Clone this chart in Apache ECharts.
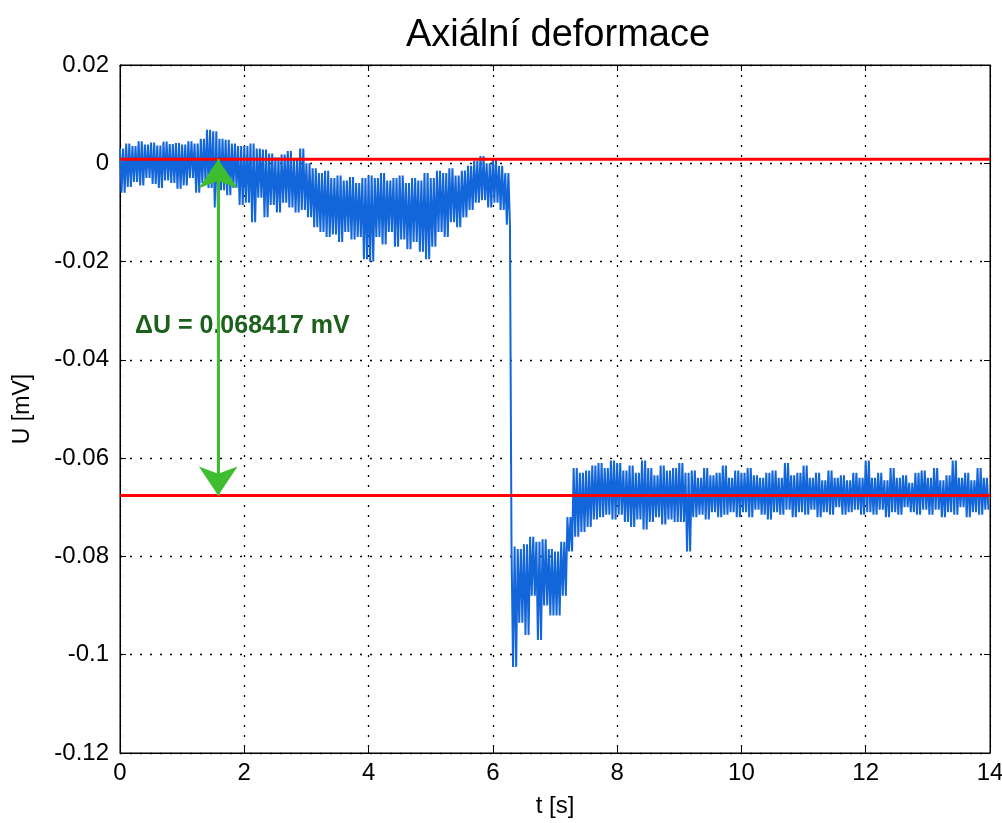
<!DOCTYPE html>
<html lang="cs">
<head>
    <meta charset="UTF-8">
    <title>Axiální deformace</title>
    <style>
        html, body { margin: 0; padding: 0; background: #fff; }
    </style>
</head>
<body>
<div id="main" style="width: 1002px;height: 823px;"></div>
<script src="https://cdn.jsdelivr.net/npm/echarts@6/dist/echarts.min.js"></script>
<script type="text/javascript">

    // start time of each 0.1 s window is index * step
    var step = 0.1;

    // upper edge of the noisy trace in each window [mV]
    var upperEdge = [
        0.0030, 0.0040, 0.0035, 0.0045, 0.0038, 0.0042, 0.0036, 0.0044, 0.0039, 0.0041,
        0.0038, 0.0045, 0.0040, 0.0050, 0.0068, 0.0065, 0.0050, 0.0048, 0.0040, 0.0035,
        0.0035, 0.0040, 0.0030, 0.0028, 0.0020, 0.0012, 0.0018, 0.0025, 0.0010, 0.0030,
        0.0000, -0.0010, -0.0020, -0.0015, -0.0030, -0.0025, -0.0035, -0.0028, -0.0040, -0.0030,
        -0.0025, -0.0030, -0.0020, -0.0035, -0.0030, -0.0025, -0.0040, -0.0030, -0.0035, -0.0020,
        -0.0030, -0.0015, -0.0020, -0.0010, -0.0025, -0.0015, -0.0005, 0.0005, 0.0015, 0.0000,
        0.0010, -0.0005, -0.0020, -0.0780, -0.0785, -0.0775, -0.0760, -0.0770, -0.0765, -0.0785,
        -0.0790, -0.0770, -0.0720, -0.0620, -0.0630, -0.0625, -0.0615, -0.0610, -0.0620, -0.0605,
        -0.0610, -0.0625, -0.0615, -0.0630, -0.0605, -0.0620, -0.0635, -0.0615, -0.0625, -0.0620,
        -0.0610, -0.0630, -0.0625, -0.0640, -0.0620, -0.0635, -0.0630, -0.0615, -0.0640, -0.0625,
        -0.0630, -0.0620, -0.0635, -0.0640, -0.0630, -0.0625, -0.0640, -0.0610, -0.0635, -0.0630,
        -0.0615, -0.0640, -0.0630, -0.0645, -0.0625, -0.0640, -0.0635, -0.0645, -0.0630, -0.0640,
        -0.0605, -0.0640, -0.0630, -0.0645, -0.0620, -0.0640, -0.0635, -0.0650, -0.0630, -0.0625,
        -0.0640, -0.0620, -0.0645, -0.0635, -0.0605, -0.0640, -0.0630, -0.0645, -0.0620, -0.0640
    ];

    // lower edge of the noisy trace in each window [mV]
    var lowerEdge = [
        -0.0060, -0.0048, -0.0038, -0.0045, -0.0030, -0.0042, -0.0050, -0.0035, -0.0040, -0.0052,
        -0.0045, -0.0030, -0.0060, -0.0040, -0.0050, -0.0090, -0.0055, -0.0065, -0.0050, -0.0085,
        -0.0080, -0.0120, -0.0070, -0.0110, -0.0085, -0.0100, -0.0080, -0.0090, -0.0100, -0.0095,
        -0.0110, -0.0130, -0.0140, -0.0150, -0.0145, -0.0160, -0.0140, -0.0155, -0.0150, -0.0195,
        -0.0200, -0.0150, -0.0165, -0.0140, -0.0170, -0.0155, -0.0175, -0.0160, -0.0180, -0.0195,
        -0.0170, -0.0140, -0.0150, -0.0120, -0.0130, -0.0110, -0.0095, -0.0080, -0.0075, -0.0090,
        -0.0080, -0.0095, -0.0125, -0.1025, -0.0935, -0.0960, -0.0880, -0.0970, -0.0900, -0.0920,
        -0.0920, -0.0880, -0.0790, -0.0760, -0.0750, -0.0740, -0.0725, -0.0720, -0.0715, -0.0725,
        -0.0715, -0.0730, -0.0740, -0.0725, -0.0745, -0.0730, -0.0720, -0.0735, -0.0725, -0.0730,
        -0.0730, -0.0790, -0.0720, -0.0715, -0.0725, -0.0710, -0.0720, -0.0715, -0.0710, -0.0720,
        -0.0710, -0.0720, -0.0705, -0.0715, -0.0725, -0.0710, -0.0715, -0.0705, -0.0720, -0.0710,
        -0.0715, -0.0705, -0.0720, -0.0710, -0.0715, -0.0700, -0.0715, -0.0710, -0.0705, -0.0715,
        -0.0710, -0.0715, -0.0705, -0.0720, -0.0710, -0.0715, -0.0700, -0.0710, -0.0715, -0.0705,
        -0.0715, -0.0705, -0.0720, -0.0710, -0.0715, -0.0700, -0.0720, -0.0710, -0.0715, -0.0705
    ];

    // red reference levels and the measured difference
    var levelBefore = 0.0008;
    var levelAfter = -0.0676;
    var arrowTime = 1.58;
    var deltaText = '\u0394U = 0.068417 mV';

    var xTicks = { min: 0, max: 14, interval: 2 };
    var yTicks = { min: -0.12, max: 0.02, interval: 0.02 };

    // trace: zig-zag between the edges inside every window
    var trace = [];
    for (var i = 0; i < upperEdge.length; i++) {
        var t = i * step;
        trace.push([t, upperEdge[i]]);
        trace.push([t + step / 4, lowerEdge[i]]);
        trace.push([t + step / 2, upperEdge[i]]);
        trace.push([t + 3 * step / 4, lowerEdge[i]]);
    }

    var font = 'Liberation Sans';
    var gridDots = { color: '#000', type: [2, 8], width: 1.3 };

    var option = {
        animation: false,
        backgroundColor: '#fff',
        title: {
            text: 'Axiální deformace',
            left: 553,
            textAlign: 'center',
            top: 12,
            textStyle: { fontFamily: font, fontSize: 38, fontWeight: 'normal', color: '#000' }
        },
        grid: {
            left: 120, right: 12, top: 65, bottom: 70,
            outerBoundsMode: 'none',
            containLabel: false,
            show: true, borderColor: '#000', borderWidth: 1
        },
        xAxis: [{
            type: 'value',
            min: xTicks.min, max: xTicks.max, interval: xTicks.interval,
            name: 't [s]', nameLocation: 'middle', nameGap: 41,
            nameTextStyle: { fontFamily: font, fontSize: 24, color: '#000' },
            axisLine: { show: true, onZero: false, lineStyle: { color: '#000', width: 1 } },
            axisTick: { inside: true, length: 6, lineStyle: { color: '#000' } },
            axisLabel: { fontFamily: font, fontSize: 24, color: '#000', margin: 8 },
            splitLine: { show: true, lineStyle: gridDots }
        }, {
            type: 'value', position: 'top',
            min: xTicks.min, max: xTicks.max, interval: xTicks.interval,
            axisLine: { show: true, onZero: false, lineStyle: { color: '#000' } },
            axisTick: { inside: true, length: 6, lineStyle: { color: '#000' } },
            axisLabel: { show: false },
            splitLine: { show: false }
        }],
        yAxis: [{
            type: 'value',
            min: yTicks.min, max: yTicks.max, interval: yTicks.interval,
            name: 'U [mV]', nameLocation: 'middle', nameGap: 86,
            nameTextStyle: { fontFamily: font, fontSize: 23, color: '#000' },
            axisLine: { show: true, onZero: false, lineStyle: { color: '#000', width: 1 } },
            axisTick: { inside: true, length: 6, lineStyle: { color: '#000' } },
            axisLabel: { fontFamily: font, fontSize: 24, color: '#000', margin: 11 },
            splitLine: { show: true, lineStyle: gridDots }
        }, {
            type: 'value', position: 'right',
            min: yTicks.min, max: yTicks.max, interval: yTicks.interval,
            axisLine: { show: true, onZero: false, lineStyle: { color: '#000' } },
            axisTick: { inside: true, length: 6, lineStyle: { color: '#000' } },
            axisLabel: { show: false },
            splitLine: { show: false }
        }],
        series: [{
            name: 'U',
            type: 'line',
            data: trace,
            showSymbol: false,
            sampling: null,
            silent: true,
            lineStyle: { color: '#1266da', width: 2 },
            z: 2
        }, {
            name: 'before',
            type: 'line',
            data: [[xTicks.min, levelBefore], [xTicks.max, levelBefore]],
            showSymbol: false,
            silent: true,
            lineStyle: { color: '#ff0000', width: 3 },
            z: 3
        }, {
            name: 'after',
            type: 'line',
            data: [[xTicks.min, levelAfter], [xTicks.max, levelAfter]],
            showSymbol: false,
            silent: true,
            lineStyle: { color: '#ff0000', width: 3 },
            z: 3
        }, {
            name: 'delta',
            type: 'line',
            data: [],
            z: 4,
            markLine: {
                silent: true,
                animation: false,
                symbol: ['arrow', 'arrow'],
                symbolSize: 29,
                label: { show: false },
                lineStyle: { color: '#3fbd30', width: 3, type: 'solid' },
                data: [[
                    { coord: [arrowTime, levelBefore] },
                    { coord: [arrowTime, levelAfter] }
                ]]
            }
        }],
        graphic: [{
            type: 'text',
            left: 135,
            top: 314,
            z: 5,
            style: {
                text: deltaText,
                fill: '#1b601b',
                font: 'bold 25px "Liberation Sans"'
            }
        }]
    };

    var myChart = echarts.init(document.getElementById('main'));
    myChart.setOption(option);
</script>
</body>
</html>
